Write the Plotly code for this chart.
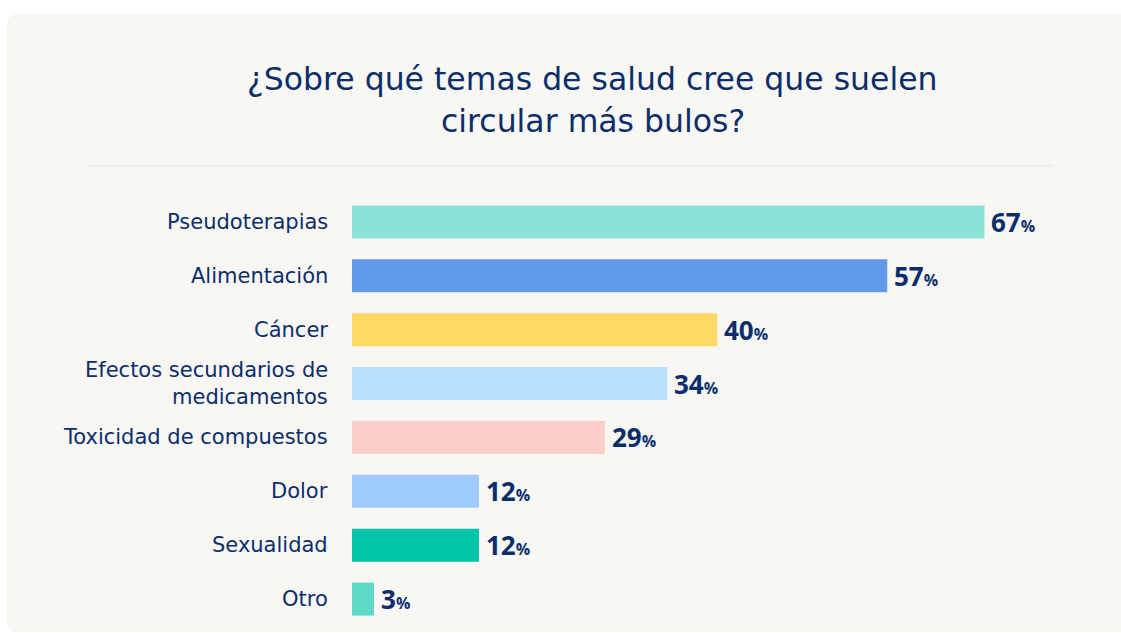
import plotly.graph_objects as go

# ---- data ----
categories = [
    "Pseudoterapias",
    "Alimentación",
    "Cáncer",
    "Efectos secundarios de<br>medicamentos",
    "Toxicidad de compuestos",
    "Dolor",
    "Sexualidad",
    "Otro",
]
# percentages shown as labels
values = [67, 57, 40, 34, 29, 12, 12, 3]
# drawn bar lengths (same % units)
bar_lengths = [67.0, 56.7, 38.7, 33.4, 26.8, 13.45, 13.45, 2.33]
colors = ["#8de2d8", "#5f9be8", "#ffd966", "#b8e0fd", "#facfca",
          "#a0cbfd", "#00c4a7", "#5ed9c8"]
title_lines = ["¿Sobre qué temas de salud cree que suelen", "circular más bulos?"]

NAVY = "#0b2e6b"
CARD = "#f8f7f4"
W, H = 1121, 633
ML, MR, MT, MB = 352, 61, 194.5, 7
PW, PH = W - ML - MR, H - MT - MB


def px_x(px):  # page pixel -> paper x
    return (px - ML) / PW


def px_y(py):  # page pixel -> paper y
    return (H - MB - py) / PH


fig = go.Figure()
fig.add_trace(go.Bar(
    x=bar_lengths, y=categories, orientation="h",
    marker=dict(color=colors, line=dict(width=0)),
    hoverinfo="skip", showlegend=False,
))

annotations = []
# category labels
for cat in categories:
    lines = cat.split("<br>")
    n = len(lines)
    for i, ln in enumerate(lines):
        annotations.append(dict(
            x=0, xref="paper", y=cat, yref="y", text=ln, showarrow=False,
            xanchor="right", yanchor="middle", xshift=-22,
            yshift=((n - 1) / 2 - i) * 27,
            font=dict(family="DejaVu Sans", size=21, color=NAVY),
        ))
# value labels
for cat, v, bl in zip(categories, values, bar_lengths):
    annotations.append(dict(
        x=bl, xref="x", y=cat, yref="y",
        text=f"<b>{v}</b><span style='font-size:16px'><b>%</b></span>",
        showarrow=False, xanchor="left", yanchor="middle", xshift=5,
        font=dict(family="Open Sans", size=26, color=NAVY),
    ))
# title
for t, py in zip(title_lines, [78, 120]):
    annotations.append(dict(
        x=px_x(592.5), xref="paper", y=px_y(py), yref="paper", text=t,
        showarrow=False, xanchor="center", yanchor="middle",
        font=dict(family="DejaVu Sans", size=31.5, color=NAVY),
    ))

# rounded card background
L, T, R, B, r = 7, 13, 1180, 632, 12
rx, ry = r / PW, r / PH
x0, x1 = px_x(L), px_x(R)
y0, y1 = px_y(T), px_y(B)
path = (f"M {x0},{y0 - ry} Q {x0},{y0} {x0 + rx},{y0} L {x1},{y0} L {x1},{y1} "
        f"L {x0 + rx},{y1} Q {x0},{y1} {x0},{y1 + ry} Z")
shapes = [
    dict(type="path", xref="paper", yref="paper", path=path,
         fillcolor=CARD, line=dict(width=0), layer="below"),
    dict(type="line", xref="paper", yref="paper",
         x0=px_x(88), x1=px_x(1053), y0=px_y(165.5), y1=px_y(165.5),
         line=dict(color="#ebe8e2", width=1), layer="below"),
]

fig.update_layout(
    width=W, height=H,
    margin=dict(l=ML, r=MR, t=MT, b=MB, pad=0),
    paper_bgcolor="white", plot_bgcolor="rgba(0,0,0,0)",
    bargap=0.388,
    xaxis=dict(range=[0, 75], visible=False, fixedrange=True),
    yaxis=dict(autorange="reversed", showticklabels=False, showgrid=False,
               zeroline=False, showline=False, ticks="", fixedrange=True),
    annotations=annotations, shapes=shapes,
)

fig.write_html(
    "out.html",
    config={"displayModeBar": False},
    post_script="document.body.style.margin='0';"
                "document.documentElement.style.overflow='hidden';",
)
